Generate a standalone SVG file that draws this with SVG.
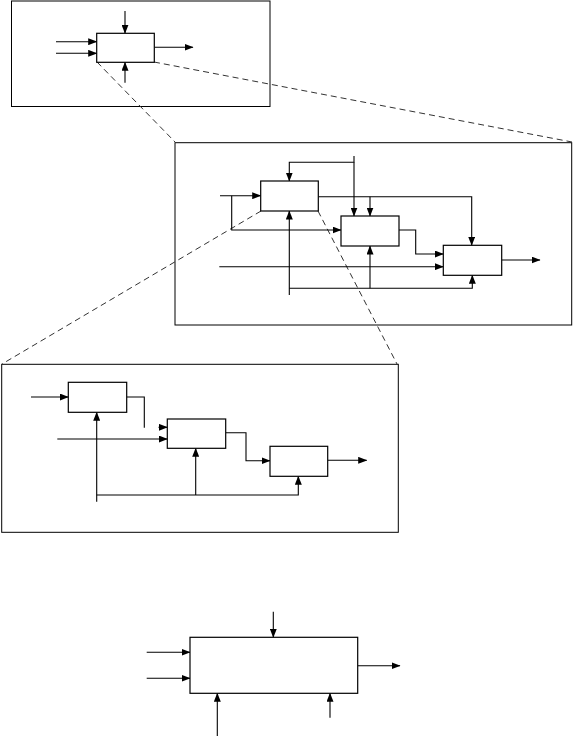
<svg xmlns="http://www.w3.org/2000/svg" width="574" height="738" viewBox="0 0 574 738">
<style>
.frame{fill:none;stroke:#000;stroke-width:1}
.box{fill:#fff;stroke:#000;stroke-width:1.2}
.ln{fill:none;stroke:#000;stroke-width:1.1}
.ar{fill:none;stroke:#000;stroke-width:1.1;marker-end:url(#ah)}
.dash{fill:none;stroke:#333;stroke-width:1;stroke-dasharray:6 4}
</style>
<defs>
<marker id="ah" markerUnits="userSpaceOnUse" markerWidth="9" markerHeight="7" refX="8.5" refY="3.5" orient="auto">
<path d="M0,0 L9,3.5 L0,7 z" fill="#000"/>
</marker>
</defs>
<rect width="574" height="738" fill="#fff"/>
<g id="frames">
<rect id="frame-top" class="frame" x="11.5" y="1" width="258.5" height="105.5"/>
<rect id="frame-mid" class="frame" x="175" y="142.7" width="396.7" height="182.3"/>
<rect id="frame-low" class="frame" x="1.7" y="364.3" width="396.6" height="168"/>
</g>
<g id="connectors">
<!-- zoom lines -->
<line class="dash" x1="97" y1="62" x2="176" y2="143"/>
<line class="dash" x1="154" y1="62" x2="572" y2="142"/>
<line class="dash" x1="261" y1="211" x2="2" y2="364"/>
<line class="dash" x1="318" y1="211" x2="397" y2="364"/>
<!-- top diagram -->
<line class="ar" x1="56" y1="41.7" x2="96.7" y2="41.7"/>
<line class="ar" x1="56" y1="53.3" x2="96.7" y2="53.3"/>
<line class="ar" x1="125" y1="11" x2="125" y2="33.3"/>
<line class="ar" x1="125" y1="82.7" x2="125" y2="62.3"/>
<line class="ar" x1="154.3" y1="47.3" x2="193" y2="47.3"/>
<!-- middle diagram -->
<line class="ar" x1="220" y1="195.7" x2="260.7" y2="195.7"/>
<polyline class="ar" points="231.7,195.7 231.7,230 341,230"/>
<polyline class="ar" points="354,156 354,162.3 289.3,162.3 289.3,181"/>
<line class="ar" x1="354" y1="162.3" x2="354" y2="216"/>
<polyline class="ar" points="318.3,196.7 471.7,196.7 471.7,245.3"/>
<line class="ar" x1="370" y1="196.7" x2="370" y2="216"/>
<polyline class="ar" points="399,230 415.7,230 415.7,254 443.3,254"/>
<line class="ar" x1="219.3" y1="266.7" x2="443.3" y2="266.7"/>
<line class="ar" x1="289.3" y1="295" x2="289.3" y2="211"/>
<polyline class="ar" points="289.3,288.3 472.3,288.3 472.3,275.3"/>
<line class="ar" x1="370" y1="288.3" x2="370" y2="246"/>
<line class="ar" x1="501.7" y1="260" x2="540" y2="260"/>
<!-- lower diagram -->
<line class="ar" x1="31" y1="397" x2="68.3" y2="397"/>
<polyline class="ln" points="126.7,397 144.3,397 144.3,427.7"/>
<line class="ar" x1="158.5" y1="427.3" x2="167.3" y2="427.3"/>
<line class="ar" x1="57.3" y1="439" x2="167.3" y2="439"/>
<polyline class="ar" points="225.7,432.7 246,432.7 246,460.7 270,460.7"/>
<line class="ar" x1="327.7" y1="460.3" x2="366.7" y2="460.3"/>
<line class="ar" x1="96.7" y1="501.7" x2="96.7" y2="412.3"/>
<polyline class="ar" points="96.7,495 298.3,495 298.3,476.3"/>
<line class="ar" x1="195.7" y1="495" x2="195.7" y2="448.3"/>
<!-- bottom diagram -->
<line class="ar" x1="273.3" y1="611.7" x2="273.3" y2="637.3"/>
<line class="ar" x1="146.7" y1="652.3" x2="190" y2="652.3"/>
<line class="ar" x1="146.7" y1="678.3" x2="190" y2="678.3"/>
<line class="ar" x1="357.7" y1="665.7" x2="400" y2="665.7"/>
<line class="ar" x1="217.3" y1="736" x2="217.3" y2="693.3"/>
<line class="ar" x1="330" y1="717.7" x2="330" y2="693.3"/>
</g>
<g id="node-top"><rect class="box" x="96.7" y="33.3" width="57.6" height="29"/></g>
<g id="node-mid-a"><rect class="box" x="260.7" y="181" width="57.6" height="30"/></g>
<g id="node-mid-b"><rect class="box" x="341" y="216" width="58" height="30"/></g>
<g id="node-mid-c"><rect class="box" x="443.3" y="245.3" width="58.4" height="30"/></g>
<g id="node-low-1"><rect class="box" x="68.3" y="382.3" width="58.4" height="30"/></g>
<g id="node-low-2"><rect class="box" x="167.3" y="419" width="58.4" height="29.3"/></g>
<g id="node-low-3"><rect class="box" x="270" y="446.3" width="57.7" height="30"/></g>
<g id="node-bottom"><rect class="box" x="190" y="637.3" width="167.7" height="56"/></g>
</svg>
